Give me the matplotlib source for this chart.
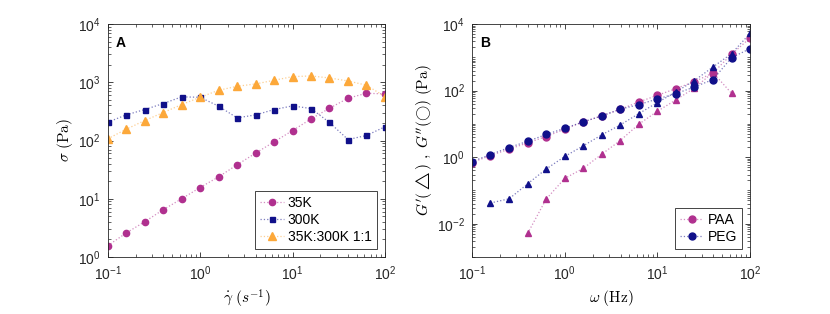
import matplotlib
matplotlib.use('Agg')
import matplotlib.pyplot as plt
import matplotlib.ticker as mticker
from matplotlib.lines import Line2D
import numpy as np

plt.rcParams['font.family'] = ['Liberation Sans', 'DejaVu Sans']
plt.rcParams['mathtext.fontset'] = 'cm'

# shear rate / frequency grid (5 points per decade)
rate = [0.1, 0.158, 0.251, 0.398, 0.631, 1.0, 1.585, 2.51, 3.98, 6.31,
        10.0, 15.85, 25.1, 39.8, 63.1, 100.0]

# panel A: stress
s_35k = [1.56, 2.58, 4.03, 6.48, 10.0, 15.6, 23.8, 38.3, 60.7, 94.9,
         148, 235, 358, 532, 648, 631]
s_300k = [206, 275, 340, 431, 561, 553, 388, 245, 275, 340,
          393, 354, 204, 104, 122, 172]
s_mix = [107, 156, 220, 302, 414, 553, 729, 853, 936, 1082,
         1250, 1284, 1186, 1054, 889, 568]

# panel B: moduli
paa_g2 = [0.69, 1.12, 1.74, 2.69, 4.17, 6.9, 11.5, 17.4, 27.5, 45.7,
          72, 115, 186, 339, 1230, 3800]
peg_g2 = [0.74, 1.2, 1.95, 3.0, 4.8, 7.4, 11.5, 17.4, 27.5, 38,
          56, 81, 129, 214, 977, 1820]
peg_w1 = rate[1:]
peg_g1 = [0.042, 0.056, 0.158, 0.44, 1.05, 2.19, 4.68, 9.3, 20.4, 43.6,
          91, 200, 513, 1290, 5250]
paa_w1 = rate[3:15]
paa_g1 = [0.0051, 0.055, 0.23, 0.46, 1.23, 3.16, 9.8, 24, 52.5, 120,
          347, 83]

purple = '#b0308f'
navy = '#10108a'
orange = '#fca83a'

fig = plt.figure(figsize=(8.3, 3.14), dpi=100)
axA = fig.add_axes([0.1298, 0.1815, 0.334, 0.742])
axB = fig.add_axes([0.5687, 0.1815, 0.335, 0.742])


def series(ax, x, y, c, m, ms):
    ax.plot(x, y, linestyle=':', color=c, alpha=0.55, linewidth=0.9)
    ax.plot(x, y, linestyle='none', marker=m, markersize=ms, color=c,
            markeredgecolor=c)


def handle(c, m, ms):
    ln = Line2D([], [], linestyle=':', color=c, alpha=0.55, linewidth=0.9)
    mk = Line2D([], [], linestyle='none', marker=m, markersize=ms, color=c)
    return (ln, mk)


series(axA, rate, s_35k, purple, 'o', 4.5)
series(axA, rate, s_300k, navy, 's', 3.6)
series(axA, rate, s_mix, orange, '^', 5.5)

series(axB, rate, paa_g2, purple, 'o', 5)
series(axB, paa_w1, paa_g1, purple, '^', 5)
series(axB, rate, peg_g2, navy, 'o', 5)
series(axB, peg_w1, peg_g1, navy, '^', 5)

legA = ([handle(purple, 'o', 4.5), handle(navy, 's', 3.6), handle(orange, '^', 5.5)],
        ['35K', '300K', '35K:300K 1:1'])
legB = ([handle(purple, 'o', 5), handle(navy, 'o', 5)], ['PAA', 'PEG'])

for ax, (hs, ls) in ((axA, legA), (axB, legB)):
    ax.set_xscale('log')
    ax.set_yscale('log')
    ax.set_xlim(0.1, 100)
    ax.tick_params(which='both', direction='in', top=True, right=True,
                   labelsize=10, colors='#262626', pad=5)
    ax.tick_params(which='major', length=3.5, width=0.6)
    ax.tick_params(which='minor', length=2, width=0.5)
    ax.xaxis.set_minor_locator(mticker.LogLocator(base=10, subs=np.arange(2, 10), numticks=20))
    ax.yaxis.set_minor_locator(mticker.LogLocator(base=10, subs=np.arange(2, 10), numticks=20))
    for sp in ax.spines.values():
        sp.set_linewidth(0.6)
        sp.set_color('#262626')
    leg = ax.legend(hs, ls, loc='lower right', fontsize=10, fancybox=False,
                    edgecolor='#262626', framealpha=1, handlelength=1.7,
                    borderpad=0.35, labelspacing=0.2, handletextpad=0.3,
                    borderaxespad=0.6)
    leg.get_frame().set_linewidth(0.6)

axA.set_ylim(1, 1e4)
axA.set_yticks([1, 10, 100, 1000, 1e4])
axA.set_xlabel(r'$\dot{\gamma}\ (s^{-1})$', fontsize=11)
axA.set_ylabel(r'$\sigma\ (\mathrm{Pa})$', fontsize=11, labelpad=2)
axA.text(0.03, 0.95, 'A', transform=axA.transAxes, fontsize=10,
         fontweight='bold', va='top')

axB.set_ylim(1e-3, 1e4)
axB.set_yticks([1e-2, 1, 1e2, 1e4])
axB.yaxis.set_minor_locator(mticker.LogLocator(base=10, subs=np.arange(1, 10), numticks=20))
axB.yaxis.set_minor_formatter(mticker.NullFormatter())
axB.set_xlabel(r'$\omega\ (\mathrm{Hz})$', fontsize=11)
axB.set_ylabel(r"$G'(\triangle)\ ,\ G''(\bigcirc)\ (\mathrm{Pa})$", fontsize=11, labelpad=2)
axB.text(0.03, 0.95, 'B', transform=axB.transAxes, fontsize=10,
         fontweight='bold', va='top')

fig.savefig('out.png', dpi=100)
